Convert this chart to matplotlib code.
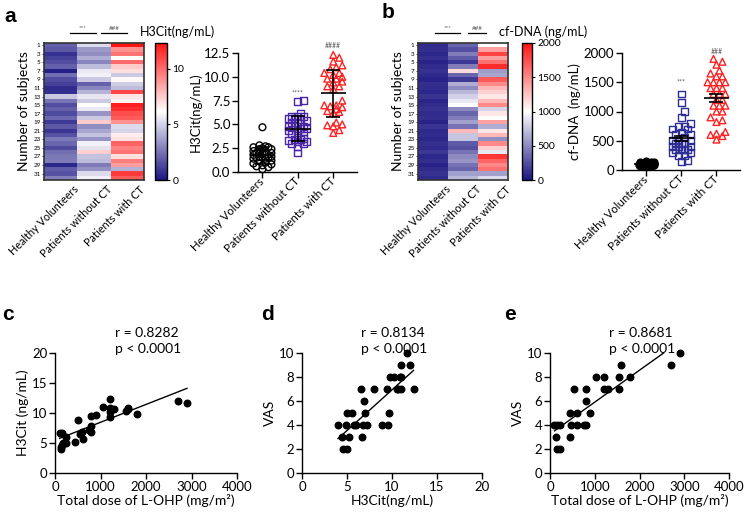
import numpy as np
import matplotlib
matplotlib.use('Agg')
import matplotlib.pyplot as plt
from matplotlib.colors import LinearSegmentedColormap
from matplotlib.transforms import ScaledTranslation

plt.rcParams['font.family'] = ['Lato', 'DejaVu Sans']
plt.rcParams['axes.linewidth'] = 1.0

groups = ['Healthy Volunteers', 'Patients without CT', 'Patients with CT']

# H3Cit (ng/mL), one value per subject (rows of heatmap a)
h3_healthy = [2.0, 1.8, 0.8, 1.2, 1.5, 2.0, 0.3, 2.4, 1.5, 1.2, 0.6, 0.7, 4.7, 2.5, 1.5, 2.0,
              1.4, 2.2, 1.0, 1.8, 0.9, 1.6, 2.6, 2.2, 1.4, 2.4, 2.6, 2.7, 0.5, 1.9, 1.6, 2.8]
h3_noct = [5.2, 3.5, 3.2, 4.0, 3.0, 4.4, 5.6, 5.8, 4.8, 2.0, 3.0, 4.2, 5.5, 4.8, 6.2, 5.6,
           3.4, 4.8, 7.5, 3.2, 3.8, 4.6, 3.4, 5.8, 5.4, 7.4, 4.6, 4.4, 2.7, 3.3, 5.2, 5.8]
h3_ct = [12.3, 9.0, 9.8, 6.2, 10.0, 7.5, 7.0, 4.8, 6.3, 4.9, 4.4, 11.0, 6.8, 6.4, 12.0, 11.6,
         10.8, 10.4, 9.0, 5.2, 5.0, 6.6, 6.9, 10.2, 9.4, 9.8, 7.0, 9.5, 8.7, 4.1, 11.2, 10.4]

# cf-DNA (ng/mL)
dna_healthy = [95, 110, 80, 120, 70, 100, 130, 90, 60, 115, 105, 85, 140, 75, 100, 125,
               95, 110, 65, 135, 90, 105, 80, 120, 100, 150, 85, 110, 70, 95, 130, 90]
dna_noct = [350, 250, 450, 300, 150, 450, 1150, 350, 160, 650, 500, 700, 800, 900, 1000, 500,
            350, 450, 600, 400, 1300, 750, 750, 300, 250, 400, 500, 550, 400, 350, 600, 700]
dna_ct = [1000, 1400, 1800, 1400, 1600, 1900, 580, 620, 1700, 1500, 1300, 1200, 1100, 1300, 1500, 820,
          1100, 1000, 1400, 650, 1100, 1300, 520, 1500, 1200, 900, 1850, 1650, 1500, 1600, 600, 850]

# c: dose vs H3Cit
c_dose = [100, 150, 130, 140, 160, 180, 240, 250, 450, 500, 550, 600, 620, 750, 800, 800,
          800, 900, 1050, 1200, 1200, 1200, 1200, 1300, 1550, 1600, 1600, 1800, 2700, 2900]
c_h3 = [6.7, 6.6, 4.0, 4.3, 4.7, 5.0, 5.0, 6.0, 5.1, 8.8, 6.5, 6.9, 5.6, 7.2, 6.8, 7.9,
        9.5, 9.7, 11.0, 12.3, 10.8, 10.2, 9.3, 10.6, 10.3, 10.9, 10.6, 9.8, 12.0, 11.7]

# d: H3Cit vs VAS
d_h3 = [4.0, 4.4, 4.55, 5.0, 5.0, 4.9, 5.2, 5.6, 5.8, 6.0, 6.6, 6.7, 6.8, 6.9, 7.0, 7.2,
        8.0, 8.9, 9.4, 9.6, 9.7, 9.8, 10.2, 10.5, 10.7, 10.9, 11.0, 11.0, 11.0, 11.7, 12.0, 12.4]
d_vas = [4, 3, 2, 2, 5, 4, 3, 5, 4, 4, 7, 3, 4, 6, 5, 4,
         7, 4, 7, 4, 5, 8, 8, 7, 7, 8, 9, 7, 8, 10, 9, 7]

# e: dose vs VAS
e_dose = [100, 150, 140, 150, 230, 230, 440, 440, 480, 540, 600, 600, 750, 800, 800, 800,
          900, 1030, 1200, 1200, 1290, 1550, 1550, 1590, 1790, 2700, 2900]
e_vas = [4, 4, 3, 2, 2, 4, 5, 3, 4, 7, 5, 4, 4, 6, 7, 4,
         5, 8, 8, 7, 7, 8, 7, 9, 8, 9, 10]

W, H = 747, 512
fig = plt.figure(figsize=(W / 100, H / 100), dpi=100)


def px_axes(x0, y0, x1, y1):
    return fig.add_axes([x0 / W, 1 - y1 / H, (x1 - x0) / W, (y1 - y0) / H])


cmap = LinearSegmentedColormap.from_list('bwr_gp', ['#1b1582', '#ffffff', '#ff1414'])


def shift(lbls, dx, dy):
    for t in lbls:
        t.set_transform(t.get_transform() + ScaledTranslation(dx / 100, dy / 100, fig.dpi_scale_trans))


def heatmap(ax, cax, cols, vmax, cticks):
    m = np.column_stack(cols)
    im = ax.imshow(m, cmap=cmap, vmin=0, vmax=vmax, aspect='auto', interpolation='nearest')
    ax.set_yticks(range(0, 32, 2))
    ax.set_yticklabels([str(k + 1) for k in range(0, 32, 2)], fontsize=4.5)
    ax.tick_params(axis='y', length=1.5, width=0.5, pad=1)
    ax.set_xticks([0, 1, 2])
    ax.set_xticklabels(groups, rotation=45, ha='right', va='center', rotation_mode='anchor', fontsize=7.8)
    ax.tick_params(axis='x', length=0, pad=2)
    shift(ax.get_xticklabels(), 16, -5)
    for s in ax.spines.values():
        s.set_color('#333333')
        s.set_linewidth(1.2)
    ax.set_ylabel('Number of subjects', fontsize=10, labelpad=2)
    cb = fig.colorbar(im, cax=cax, ticks=cticks)
    cb.ax.tick_params(labelsize=7.5, length=2.5, width=0.8, pad=1.5)
    cb.outline.set_linewidth(1)


def swarm(vals, ypx, xpx, d, maxw):
    vals = np.asarray(vals, float)
    y = vals * ypx
    cand = [0.0]
    k = 1
    while k * d * 0.5 <= maxw:
        cand += [k * d * 0.5, -k * d * 0.5]
        k += 1
    offs = np.zeros(len(vals))
    placed = []
    for i in np.argsort(vals, kind='stable'):
        best, bestd = 0.0, -1
        for c in cand:
            md = min([np.hypot(c - px, y[i] - py) for px, py in placed], default=1e9)
            if md >= d:
                best = c
                break
            if md > bestd:
                best, bestd = c, md
        offs[i] = best
        placed.append((best, y[i]))
    return offs / xpx


def dot_panel(ax, cols, styles, ypx, sem, ylim, yticks, ylabel, fmt):
    for i, (vals, st) in enumerate(zip(cols, styles)):
        mk, col, filled, d, mw = st
        off = swarm(vals, ypx, 35.5, d, mw)
        ax.scatter(i + off, vals, marker=mk, s=24, facecolors=col if filled else 'none',
                   edgecolors=col, linewidths=1.0, zorder=3, clip_on=False)
        v = np.asarray(vals, float)
        mean = v.mean()
        err = v.std(ddof=1) / (np.sqrt(len(v)) if sem else 1)
        ax.hlines(mean, i - 0.36, i + 0.36, color='k', lw=1.2, zorder=4)
        ax.errorbar(i, mean, yerr=err, fmt='none', ecolor='k', elinewidth=1.2,
                    capsize=5, capthick=1.2, zorder=4)
    ax.set_xlim(-0.69, 2.67)
    ax.set_ylim(*ylim)
    ax.set_yticks(yticks)
    ax.set_yticklabels([fmt.format(t) for t in yticks], fontsize=9.5)
    ax.set_xticks([0, 1, 2])
    ax.set_xticklabels(groups, rotation=45, ha='right', va='center', rotation_mode='anchor', fontsize=8.3)
    shift(ax.get_xticklabels(), 5, -2)
    ax.tick_params(length=4, width=1, pad=1.5)
    ax.spines['top'].set_visible(False)
    ax.spines['right'].set_visible(False)
    ax.set_ylabel(ylabel, fontsize=9.5, labelpad=2)


def corr_panel(ax, x, y, xlim, ylim, xticks, yticks, xlabel, ylabel, r):
    ax.scatter(x, y, s=22, color='k', zorder=3, clip_on=False)
    k, b = np.polyfit(x, y, 1)
    xx = np.array([min(x), max(x)])
    ax.plot(xx, k * xx + b, color='k', lw=1)
    ax.set_xlim(*xlim)
    ax.set_ylim(*ylim)
    ax.set_xticks(xticks)
    ax.set_yticks(yticks)
    ax.tick_params(labelsize=9.5, length=4, width=1, pad=1.5)
    ax.spines['top'].set_visible(False)
    ax.spines['right'].set_visible(False)
    ax.set_xlabel(xlabel, fontsize=10, labelpad=1)
    ax.set_ylabel(ylabel, fontsize=10, labelpad=2)
    ax.text(0.33, 1.17, 'r = ' + r, transform=ax.transAxes, fontsize=10, va='center')
    ax.text(0.33, 1.03, 'p < 0.0001', transform=ax.transAxes, fontsize=10, va='center')


# ---- panel a
ax_ha = px_axes(44, 43, 144, 180)
cax_a = px_axes(155, 43, 167, 180)
heatmap(ax_ha, cax_a, [h3_healthy, h3_noct, h3_ct], 12.3, [0, 5, 10])

ax_sa = px_axes(238, 53, 357, 172)
dot_panel(ax_sa, [h3_healthy, h3_noct, h3_ct],
          [('o', 'k', False, 6, 9), ('s', '#4a25a8', False, 6, 9), ('^', '#ff2020', False, 6, 9)],
          119 / 12.5, False, (0, 12.5), [0, 2.5, 5, 7.5, 10, 12.5], 'H3Cit(ng/mL)', '{:.1f}')
ax_sa.text(1, 8.3, '****', ha='center', va='center', fontsize=5, color='#555555')
ax_sa.text(2, 13.3, '####', ha='center', va='center', fontsize=5, color='#555555', clip_on=False)

# ---- panel b
ax_hb = px_axes(418, 43, 508, 180)
cax_b = px_axes(522, 43, 532, 180)
heatmap(ax_hb, cax_b, [dna_healthy, dna_noct, dna_ct], 2000, [0, 500, 1000, 1500, 2000])

ax_sb = px_axes(622, 53, 740, 170)
dot_panel(ax_sb, [dna_healthy, dna_noct, dna_ct],
          [('o', 'k', True, 3.0, 8), ('s', '#2e2f96', False, 6, 9), ('^', '#ff2020', False, 6, 10)],
          117 / 2000, True, (0, 2000), [0, 500, 1000, 1500, 2000], 'cf-DNA  (ng/mL)', '{:.0f}')
ax_sb.text(1, 1510, '***', ha='center', va='center', fontsize=5, color='#555555')
ax_sb.text(2, 2020, '###', ha='center', va='center', fontsize=5, color='#555555', clip_on=False)

# heatmap headers
for x0, x1, x2, x3, lab in [(70, 96, 101, 127, 'H3Cit(ng/mL)'), (435, 460, 468, 486, 'cf-DNA (ng/mL)')]:
    for a, b, s in [(x0, x1, '***'), (x2, x3, '###')]:
        fig.add_artist(plt.Line2D([a / W, b / W], [1 - 33 / H, 1 - 33 / H], color='k', lw=0.9))
        fig.text((a + b) / 2 / W, 1 - 28 / H, s, ha='center', va='center', fontsize=4.5, color='#555555')
    fig.text((x3 + 13) / W, 1 - 32 / H, lab, ha='left', va='center', fontsize=9)

# ---- bottom row
ax_c = px_axes(55, 353, 237, 473)
corr_panel(ax_c, c_dose, c_h3, (0, 4000), (0, 20), [0, 1000, 2000, 3000, 4000], [0, 5, 10, 15, 20],
           'Total dose of L-OHP (mg/m²)', 'H3Cit (ng/mL)', '0.8282')
ax_d = px_axes(302, 353, 482, 473)
corr_panel(ax_d, d_h3, d_vas, (0, 20), (0, 10), [0, 5, 10, 15, 20], [0, 2, 4, 6, 8, 10],
           'H3Cit(ng/mL)', 'VAS', '0.8134')
ax_e = px_axes(550, 353, 729, 473)
corr_panel(ax_e, e_dose, e_vas, (0, 4000), (0, 10), [0, 1000, 2000, 3000, 4000], [0, 2, 4, 6, 8, 10],
           'Total dose of L-OHP (mg/m²)', 'VAS', '0.8681')

for lab, x, y in [('a', 10, 16), ('b', 388, 13), ('c', 8, 315), ('d', 268, 314), ('e', 510, 315)]:
    fig.text(x / W, 1 - y / H, lab, fontsize=15, fontweight='bold', ha='center', va='center',
             family='Liberation Sans')

fig.savefig('out.png', dpi=100)
